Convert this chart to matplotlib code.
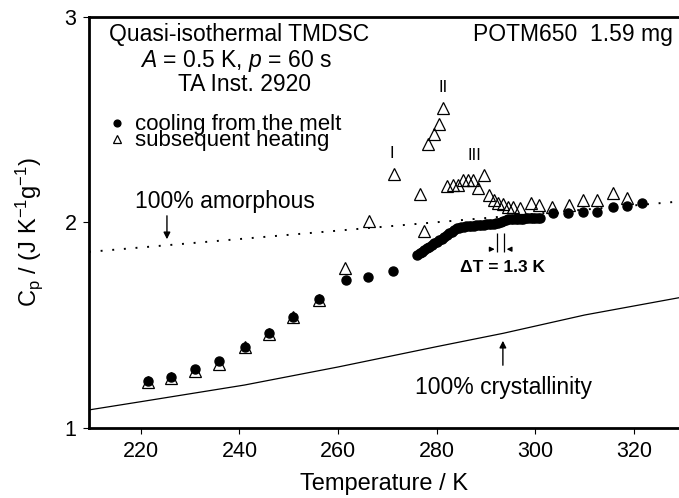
import matplotlib
matplotlib.use("Agg")
import matplotlib.pyplot as plt

plt.rcParams["font.family"] = ["Liberation Sans", "DejaVu Sans"]
plt.rcParams["mathtext.fontset"] = "custom"
plt.rcParams["mathtext.rm"] = "Liberation Sans"
plt.rcParams["mathtext.it"] = "Liberation Sans:italic"

# cooling from the melt (filled circles)
cool_T = [221.4, 226.1, 231.0, 235.8, 241.1, 246.0, 250.8, 256.1, 261.5, 266.0, 271.1,
          276.0, 276.5, 277.0, 277.5, 278.0, 278.5, 279.0, 279.5, 280.0, 280.5,
          281.0, 281.5, 282.0, 282.5, 283.0, 283.5, 284.0, 284.5, 285.0, 285.5,
          286.0, 286.5, 287.0, 287.5, 288.0, 288.5, 289.0, 289.5, 290.0, 290.5,
          291.0, 291.5, 292.0, 292.5, 293.0, 293.5, 294.0, 294.5, 295.0, 295.5,
          296.0, 296.5, 297.0, 297.5, 298.0, 298.5, 299.0, 299.5, 300.0, 300.5, 301.0,
          303.6, 306.6, 309.7, 312.5, 315.7, 318.6, 321.6]
cool_cp = [1.228, 1.250, 1.287, 1.326, 1.394, 1.462, 1.540, 1.628, 1.720, 1.735, 1.764,
           1.842, 1.850, 1.858, 1.866, 1.875, 1.882, 1.890, 1.898, 1.906, 1.915,
           1.922, 1.930, 1.939, 1.948, 1.956, 1.964, 1.972, 1.975, 1.977, 1.980,
           1.982, 1.983, 1.984, 1.985, 1.986, 1.988, 1.989, 1.990, 1.991, 1.992,
           1.993, 1.995, 1.996, 1.999, 2.004, 2.009, 2.013, 2.015, 2.016, 2.017,
           2.018, 2.018, 2.019, 2.019, 2.020, 2.020, 2.021, 2.021, 2.022, 2.022, 2.023,
           2.046, 2.046, 2.051, 2.051, 2.075, 2.080, 2.095]

# subsequent heating (open triangles)
heat_T = [221.4, 226.1, 231.0, 235.8, 241.1, 246.0, 250.8, 256.1, 261.4, 266.3, 271.3,
          276.5, 277.5, 278.3, 279.4, 280.4, 281.3, 282.0, 283.3, 284.4, 285.4,
          286.4, 287.4, 288.4, 289.6, 290.5, 291.5, 292.5, 293.5, 294.5, 295.5,
          296.9, 299.2, 300.8, 303.4, 306.9, 309.7, 312.4, 315.8, 318.6]
heat_cp = [1.222, 1.245, 1.275, 1.310, 1.392, 1.458, 1.538, 1.625, 1.780, 2.005, 2.235,
           2.140, 1.960, 2.380, 2.430, 2.480, 2.555, 2.178, 2.182, 2.182, 2.205,
           2.207, 2.205, 2.166, 2.231, 2.134, 2.109, 2.093, 2.090, 2.077, 2.077,
           2.069, 2.093, 2.085, 2.077, 2.085, 2.109, 2.109, 2.142, 2.118]

# reference heat capacities
amorph_T = [209.5, 329.1]
amorph_cp = [1.857, 2.102]
cryst_T = [209.5, 220.0, 241.0, 260.0, 280.0, 293.5, 310.0, 329.1]
cryst_cp = [1.088, 1.128, 1.209, 1.297, 1.396, 1.461, 1.550, 1.634]

fig = plt.figure(figsize=(6.79, 4.98), dpi=100)
ax = fig.add_axes([89 / 679, 70 / 498, 590 / 679, 411 / 498])

ax.plot(amorph_T, amorph_cp, color="black", lw=1.4, linestyle=(0, (1, 5)))
ax.plot(cryst_T, cryst_cp, color="black", lw=0.9)
ax.plot(heat_T, heat_cp, linestyle="none", marker="^", markersize=8,
        markerfacecolor="none", markeredgecolor="black", markeredgewidth=0.9,
        label="subsequent heating")
ax.plot(cool_T, cool_cp, linestyle="none", marker="o", markersize=6.5,
        color="black", label="cooling from the melt")

ax.set_xlim(209.5, 329.1)
ax.set_ylim(1, 3)
ax.set_xticks([220, 240, 260, 280, 300, 320])
ax.set_yticks([1, 2, 3])
ax.tick_params(direction="out", length=4, width=0.8, labelsize=15.5, pad=5)
for side in ["left", "bottom", "top"]:
    ax.spines[side].set_linewidth(2)
ax.spines["right"].set_visible(False)

ax.set_xlabel("Temperature / K", fontsize=17, labelpad=8)
ax.set_ylabel(r"C$_\mathregular{p}$ / (J K$^\mathregular{-1}$g$^\mathregular{-1}$)", fontsize=17)
ax.yaxis.set_label_coords(-0.075, 0.477)

handles, labels = ax.get_legend_handles_labels()
leg = ax.legend(handles[::-1], labels[::-1], loc="upper left",
                bbox_to_anchor=(0.018, 0.79), frameon=False, fontsize=16,
                handlelength=0.6, handletextpad=0.5, labelspacing=-0.23,
                markerscale=0.75, borderpad=0)

# header text
ax.text(0.254, 0.942, "Quasi-isothermal TMDSC", transform=ax.transAxes,
        ha="center", va="baseline", fontsize=16.5)
ax.text(0.249, 0.879, r"$\it{A}$ = 0.5 K, $\it{p}$ = 60 s", transform=ax.transAxes,
        ha="center", va="baseline", fontsize=16.5)
ax.text(0.263, 0.821, "TA Inst. 2920", transform=ax.transAxes,
        ha="center", va="baseline", fontsize=16.5)
ax.text(0.990, 0.942, "POTM650  1.59 mg", transform=ax.transAxes,
        ha="right", va="baseline", fontsize=16.5)

# transition labels
ax.text(270.9, 2.314, "I", ha="center", va="baseline", fontsize=12)
ax.text(281.3, 2.635, "II", ha="center", va="baseline", fontsize=12)
ax.text(287.7, 2.304, "III", ha="center", va="baseline", fontsize=12)

# reference line labels
arrow = dict(arrowstyle="-|>", color="black", lw=1, mutation_scale=10)
ax.text(237.0, 2.071, "100% amorphous", ha="center", va="baseline", fontsize=16.5)
ax.annotate("", xy=(225.3, 1.905), xytext=(225.3, 2.046), arrowprops=arrow)
ax.text(293.6, 1.165, "100% crystallinity", ha="center", va="baseline", fontsize=16.5)
ax.annotate("", xy=(293.4, 1.438), xytext=(293.4, 1.292), arrowprops=arrow)

# shift between cooling and heating onset
ax.vlines([292.3, 293.6], 1.856, 1.949, color="black", lw=0.9)
small = dict(arrowstyle="-|>", color="black", lw=0.9, mutation_scale=7)
ax.annotate("", xy=(292.3, 1.870), xytext=(290.4, 1.870), arrowprops=small)
ax.annotate("", xy=(293.6, 1.870), xytext=(295.5, 1.870), arrowprops=small)
ax.text(293.4, 1.761, "ΔT = 1.3 K", ha="center", va="baseline", fontsize=12.5,
        fontweight="bold")

fig.savefig("out.png", dpi=100)
